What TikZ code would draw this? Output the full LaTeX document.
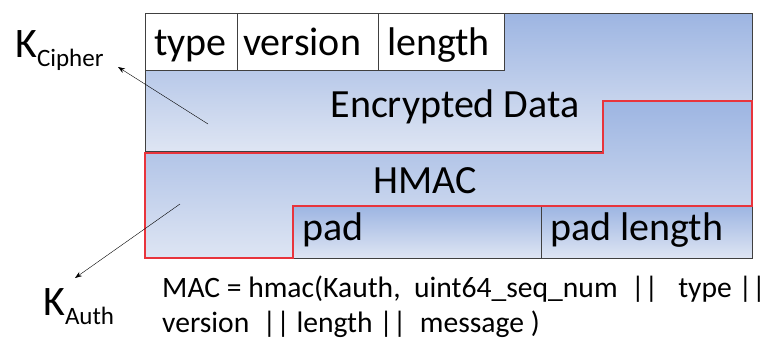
\documentclass[tikz,border=0pt]{standalone}
\usepackage{fontspec}
\setmainfont{Carlito}
\usetikzlibrary{arrows.meta,positioning}
\definecolor{TopBlue}{HTML}{9DB5E2}
\definecolor{LowBlue}{HTML}{DEE5F3}
\definecolor{MacRed}{HTML}{E8343C}
\definecolor{EdgeGray}{HTML}{404040}
\newcommand{\Ksub}[1]{K\raisebox{-9pt}{\fontsize{25}{26}\selectfont #1}}

\begin{document}
\begin{tikzpicture}[x=1pt, y=-1pt, >={Stealth[length=7pt,width=5pt]},
    big/.style={font=\fontsize{40}{42}\selectfont, inner sep=0pt, anchor=base west},
    bigmid/.style={font=\fontsize{40}{42}\selectfont, inner sep=0pt, anchor=base},
    note/.style={font=\fontsize{29.6}{35}\selectfont, inner sep=0pt, anchor=base west},
    blueshade/.style={top color=TopBlue, bottom color=LowBlue},
    edge/.style={EdgeGray, line width=0.9pt},
    redline/.style={MacRed, line width=1.3pt}]
    \useasboundingbox (0,0) rectangle (769,338);

    % Encrypted data region
    \draw[edge, blueshade] (145,13) -- (752,13) -- (752,101) -- (603,101)
        -- (603,151) -- (145,151) -- cycle;
    \node[bigmid] (encdata) at (455,117) {Encrypted Data};

    % Header cells
    \draw[edge, fill=white] (145,13) rectangle (237,70);
    \draw[edge, fill=white] (237,13) rectangle (378,70);
    \draw[edge, fill=white] (378,13) rectangle (504,70);
    \node[big] (type) at (154,55) {type};
    \node[big] (version) at (243,55) {version};
    \node[big] (length) at (387,55) {length};

    % HMAC region
    \fill[blueshade] (145,153) -- (603,153) -- (603,101) -- (752,101)
        -- (752,206) -- (293,206) -- (293,258) -- (145,258) -- cycle;
    \node[bigmid] (hmac) at (425,193) {HMAC};

    % Padding cells
    \draw[edge, blueshade] (293,206) rectangle (541,258);
    \draw[edge, blueshade] (541,206) rectangle (752,258);
    \node[big] (pad) at (302,240) {pad};
    \node[big] (padlen) at (550,240) {pad length};

    % HMAC outline on top
    \draw[redline] (145,153) -- (603,153) -- (603,101) -- (752,101)
        -- (752,206) -- (293,206) -- (293,258) -- (145,258) -- cycle;

    % Keys
    \node[big, font=\fontsize{42}{44}\selectfont] (kcipher) at (15,57) {\Ksub{Cipher}};
    \node[big, font=\fontsize{42}{44}\selectfont] (kauth) at (43,315) {\Ksub{Auth}};
    \coordinate (cipherfoot) at (208,124);
    \coordinate (cipherhead) at (118,67);
    \coordinate (authfoot) at (180,204);
    \coordinate (authhead) at (75,278);
    \draw[->] (cipherfoot) -- (cipherhead);
    \draw[->] (authfoot) -- (authhead);

    % MAC formula
    \node[note] (macline) at (162,297)
        {MAC = hmac(Kauth,\ \ uint64\_seq\_num\ \ ||\ \ \ type ||};
    \node[note] (macrest) at (162,332)
        {version\ \ || length ||\ \ message )};

\end{tikzpicture}
\end{document}
